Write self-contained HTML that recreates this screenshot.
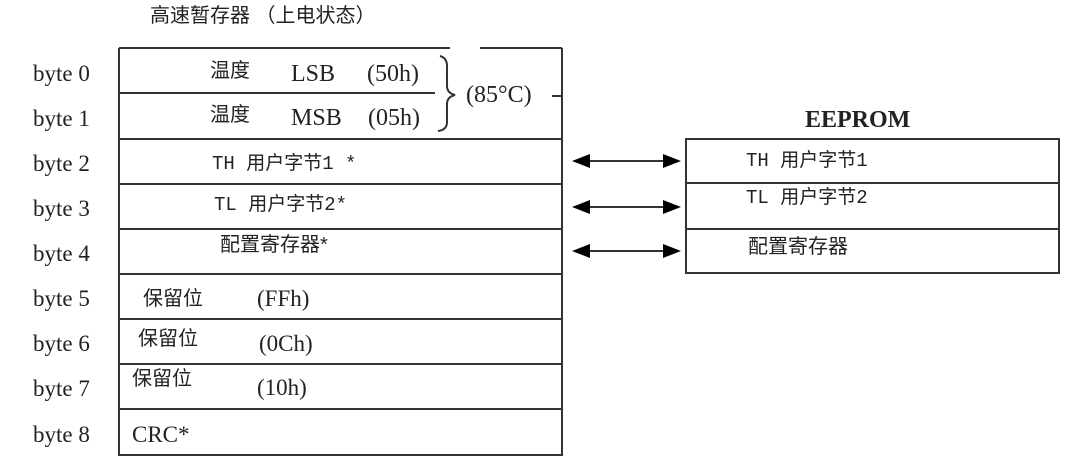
<!DOCTYPE html>
<html><head><meta charset="utf-8"><style>
html,body{margin:0;padding:0;background:#fff;}
svg{display:block}
text{fill:#222}
.s{font-family:"Liberation Serif",serif;font-size:23px}
.c{font-family:"Liberation Sans","Noto Sans CJK SC",sans-serif;font-size:20px}
.m{font-family:"Liberation Mono","Noto Sans CJK SC",monospace;font-size:19px}
</style></head><body>
<svg width="1077" height="476" viewBox="0 0 1077 476" xmlns="http://www.w3.org/2000/svg">
<g stroke="#333" stroke-width="2" fill="none">
<line x1="119" y1="48" x2="450" y2="48"/><line x1="480" y1="48" x2="562" y2="48"/>
<line x1="119" y1="48" x2="119" y2="456"/>
<line x1="562" y1="48" x2="562" y2="456"/>
<line x1="119" y1="93" x2="435" y2="93"/>
<line x1="119" y1="139" x2="562" y2="139"/>
<line x1="119" y1="184" x2="562" y2="184"/>
<line x1="119" y1="229" x2="562" y2="229"/>
<line x1="119" y1="274" x2="562" y2="274"/>
<line x1="119" y1="319" x2="562" y2="319"/>
<line x1="119" y1="364" x2="562" y2="364"/>
<line x1="119" y1="409" x2="562" y2="409"/>
<line x1="119" y1="455" x2="562" y2="455"/>
<line x1="552" y1="96" x2="562" y2="96"/>
<path d="M440 56 Q447 58 447 66 L447 86 Q447 93 455 95 Q447 97 447 104 L447 122 Q447 130 438 131"/>
<rect x="686" y="139" width="373" height="134"/>
<line x1="686" y1="183" x2="1059" y2="183"/>
<line x1="686" y1="229" x2="1059" y2="229"/>
<line x1="585" y1="161" x2="668" y2="161"/>
<line x1="585" y1="207" x2="668" y2="207"/>
<line x1="585" y1="251" x2="668" y2="251"/>
</g>
<g fill="#000">
<polygon points="572,161 590,154 590,168"/><polygon points="681,161 663,154 663,168"/>
<polygon points="572,207 590,200 590,214"/><polygon points="681,207 663,200 663,214"/>
<polygon points="572,251 590,244 590,258"/><polygon points="681,251 663,244 663,258"/>
</g>
<text class="c" x="150" y="22" font-size="19">高速暂存器 （上电状态）</text>
<g class="s">
<text x="33" y="81">byte 0</text><text x="33" y="126">byte 1</text>
<text x="33" y="171">byte 2</text><text x="33" y="216">byte 3</text>
<text x="33" y="261">byte 4</text><text x="33" y="306">byte 5</text>
<text x="33" y="351">byte 6</text><text x="33" y="396">byte 7</text>
<text x="33" y="442">byte 8</text>
<text x="291" y="81" font-size="24">LSB</text><text x="367" y="81" font-size="24">(50h)</text>
<text x="291" y="125" font-size="24">MSB</text><text x="368" y="125" font-size="24">(05h)</text>
<text x="466" y="102" font-size="24">(85°C)</text>
<text x="257" y="306">(FFh)</text><text x="259" y="351">(0Ch)</text><text x="257" y="395">(10h)</text>
<text x="132" y="442">CRC*</text>
<text x="805" y="127" font-weight="bold" font-size="24">EEPROM</text>
</g>
<g class="c">
<text x="210" y="77">温度</text><text x="210" y="121">温度</text>
<text x="143" y="305">保留位</text><text x="138" y="345">保留位</text><text x="132" y="385">保留位</text>
</g>
<g class="m">
<text x="212" y="169">TH 用户字节1 *</text>
<text x="214" y="210">TL 用户字节2*</text>
<text x="220" y="251" class="c">配置寄存器*</text>
<text x="746" y="166">TH 用户字节1</text>
<text x="746" y="203">TL 用户字节2</text>
<text x="748" y="253" class="c">配置寄存器</text>
</g>
</svg>
</body></html>
